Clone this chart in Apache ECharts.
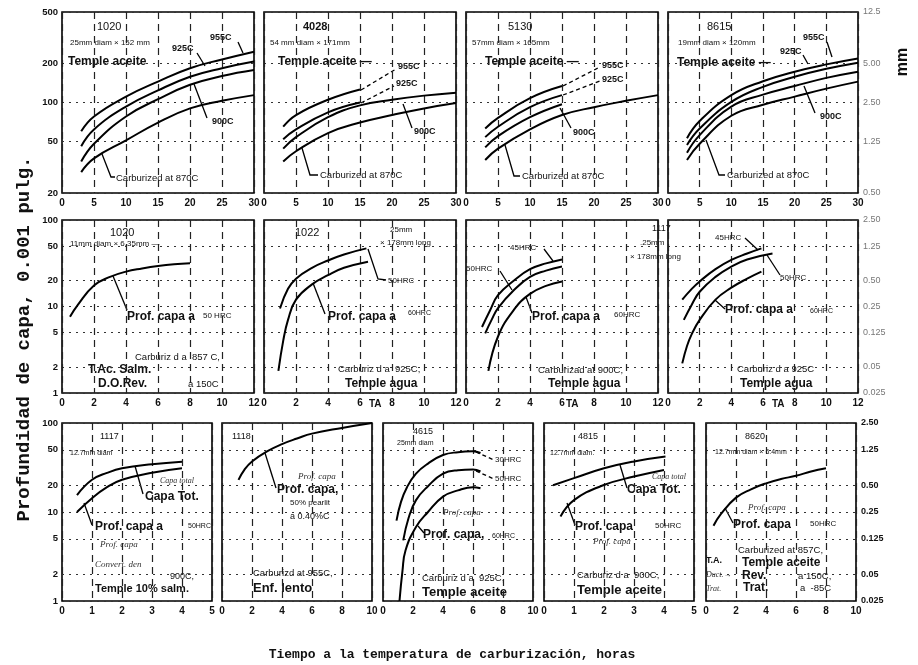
<!DOCTYPE html>
<html><head><meta charset="utf-8">
<script src="https://cdn.jsdelivr.net/npm/echarts@6/dist/echarts.min.js"></script>
<style>html,body{margin:0;padding:0;background:#fff}#c{width:918px;height:665px}</style>
</head><body><div id="c"></div>
<script>
// ---------- tick labels ----------
const row1YTicks = [20, 50, 100, 200, 500];
const row23YTicks = [1, 2, 5, 10, 20, 50, 100];
const row1MM = ['0.50', '1.25', '2.50', '5.00', '12.5'];
const row23MM = ['0.025', '0.05', '0.125', '0.25', '0.50', '1.25', '2.50'];

// ---------- data: row 1 (x = horas 0-30, y = 0.001 pulg.) ----------
const s1020oil_955 = [[3,60],[5,78],[10,111],[15,145],[20,184],[25,215],[30,247]];
const s1020oil_925 = [[3,46],[5,62],[10,93],[15,124],[20,158],[25,184],[30,207]];
const s1020oil_900 = [[3,35],[5,48],[10,78],[15,106],[20,137],[25,160],[30,178]];
const s1020oil_870 = [[3,29],[5,37],[10,51],[15,70],[20,90],[25,103],[30,114]];

const s4028_955 = [[3,65],[5,80],[10,105],[15,126]];
const s4028_925 = [[3,52],[5,62],[10,84],[15,100]];
const s4028_900 = [[3,44],[5,54],[10,77],[15,95],[20,105],[25,113],[30,119]];
const s4028_870 = [[3,35],[5,42],[10,58],[15,70],[20,80],[25,90],[30,99]];

const s5130_955 = [[3,63],[5,76],[10,108],[15,134]];
const s5130_925 = [[3,54],[5,65],[10,92],[15,114]];
const s5130_900 = [[3,45],[5,55],[10,77],[15,97]];
const s5130_870 = [[3,36],[5,44],[10,62],[15,80],[20,92],[25,103],[30,114]];

const s8615_955 = [[3,53],[5,72],[10,114],[15,146],[20,173],[25,197],[30,219]];
const s8615_925 = [[3,47],[5,63],[10,101],[15,132],[20,158],[25,182],[30,203]];
const s8615_900 = [[3,41],[5,56],[10,93],[15,115],[20,134],[25,155],[30,173]];
const s8615_870 = [[3,36],[5,48],[10,79],[15,96],[20,111],[25,128],[30,145]];

// ---------- data: row 2 (x = horas 0-12) ----------
const s1020small_50 = [[0.5,7.6],[1,10.5],[2,17.5],[3,22],[4,25.3],[5,27.5],[6,29.4],[7,30.8],[8,31.6]];

const s1022_50 = [[1,9.5],[1.5,16],[2,21],[3,28],[4,34],[5,40],[6.4,47]];
const s1022_60 = [[0.9,1.8],[1.2,4],[1.5,7],[2,12],[3,18],[4,23],[5,28],[6.5,33]];

const s1117a_45 = [[1,5.8],[1.5,9],[2,13.5],[3,20],[4,27],[5,31.5],[6,35]];
const s1117a_50 = [[1.2,4.9],[1.6,7],[2,9.6],[3,15.5],[4,22],[5,26],[6,29]];
const s1117a_60 = [[1.4,1.8],[2,4.5],[3,9.2],[4,14],[5,17.3],[6,19.4]];

const s1117b_45 = [[0.9,12],[1.5,16],[2,19.5],[3,27],[4,34.5],[5,41],[5.9,47]];
const s1117b_50 = [[1,7],[1.5,10.5],[2,14.8],[3,22],[4,29],[5,35],[6.6,41]];
const s1117b_60 = [[0.9,2.2],[1.2,3.5],[1.5,4.8],[2,7],[3,12],[4,16.5],[5,21],[5.9,25.3]];

// ---------- data: row 3 ----------
const s1117c_tot = [[0.5,15.5],[1,23],[1.5,27.5],[2,31],[3,34.4],[4,36.7]];
const s1117c_50 = [[0.5,10],[1,14.3],[1.5,19],[2,23],[3,27.6],[4,31]];

const s1118_perl = [[1.1,23],[1.5,30],[2,37],[3,48],[4,58],[5,67],[6,76],[8,88],[10,100]];

const s4615_30 = [[0.9,8],[1.2,13],[1.6,19],[2.2,27],[3,35],[4,43.7],[5,47],[6,48],[6.5,46]];
const s4615_50 = [[1.35,4.8],[1.7,8.5],[2.2,13.6],[3,19.5],[4,27],[5,29.5],[6,30],[6.5,28.5]];
const s4615_60 = [[1.1,1],[1.3,2.2],[1.5,3.7],[2.2,6.8],[3,10],[4,14.9],[5,17.5],[6,19],[6.5,18.5]];

const s4815_tot = [[0.3,20],[1,24],[2,31],[3,37],[4.05,42]];
const s4815_50 = [[0.55,8.9],[1,13.6],[2,20.1],[3,25],[4,29.7]];

const s8620_50 = [[0.5,7],[1,9.5],[2,14.5],[3,18],[4,21],[5,23.5],[6,25.5],[7,28.5],[8,31]];

// ---------- panel layout ----------
const panels = [
  {l:62,  t:12, w:192, h:181, xMax:30, xStep:5, row:1, first:true,  data:[s1020oil_955,s1020oil_925,s1020oil_900,s1020oil_870]},
  {l:264, t:12, w:192, h:181, xMax:30, xStep:5, row:1, data:[s4028_955,s4028_925,s4028_900,s4028_870]},
  {l:466, t:12, w:192, h:181, xMax:30, xStep:5, row:1, data:[s5130_955,s5130_925,s5130_900,s5130_870]},
  {l:668, t:12, w:190, h:181, xMax:30, xStep:5, row:1, last:true, data:[s8615_955,s8615_925,s8615_900,s8615_870]},
  {l:62,  t:220, w:192, h:173, xMax:12, xStep:2, row:2, first:true, data:[s1020small_50]},
  {l:264, t:220, w:192, h:173, xMax:12, xStep:2, row:2, data:[s1022_50,s1022_60]},
  {l:466, t:220, w:192, h:173, xMax:12, xStep:2, row:2, data:[s1117a_45,s1117a_50,s1117a_60]},
  {l:668, t:220, w:190, h:173, xMax:12, xStep:2, row:2, last:true, data:[s1117b_45,s1117b_50,s1117b_60]},
  {l:62,  t:423, w:150, h:178, xMax:5,  xStep:1, row:3, first:true, data:[s1117c_tot,s1117c_50]},
  {l:222, t:423, w:150, h:178, xMax:10, xStep:2, row:3, data:[s1118_perl]},
  {l:383, t:423, w:150, h:178, xMax:10, xStep:2, row:3, data:[s4615_30,s4615_50,s4615_60]},
  {l:544, t:423, w:150, h:178, xMax:5,  xStep:1, row:3, data:[s4815_tot,s4815_50]},
  {l:706, t:423, w:150, h:178, xMax:10, xStep:2, row:3, last:true, data:[s8620_50]}
];

const FONT = 'Liberation Sans, Arial, sans-serif';
function lookup(ticks, labels, v) {
  for (let i = 0; i < ticks.length; i++) if (Math.abs(v - ticks[i]) / ticks[i] < 1e-4) return labels[i];
  return '';
}

const grids = [], xAxes = [], yAxes = [], series = [];
panels.forEach((p, i) => {
  const ticks = p.row === 1 ? row1YTicks : row23YTicks;
  const mm = p.row === 1 ? row1MM : row23MM;
  const yMin = ticks[0], yMax = ticks[ticks.length - 1];
  grids.push({left:p.l, top:p.t, width:p.w, height:p.h, show:true, borderColor:'#000', borderWidth:1.6, backgroundColor:'rgba(0,0,0,0)', containLabel:false});
  xAxes.push({
    type:'value', gridIndex:i, min:0, max:p.xMax, interval:p.xStep,
    axisLine:{show:false}, axisTick:{show:false},
    axisLabel:{fontSize:10, fontWeight:'bold', color:'#111', margin:5, fontFamily:FONT, showMinLabel:true, showMaxLabel:true},
    splitLine:{show:true, lineStyle:{color:'#222', type:[7,5], width:1.2}}
  });
  const yIdx = yAxes.length;
  yAxes.push({
    type:'log', logBase:10, gridIndex:i, min:yMin, max:yMax,
    axisLine:{show:false},
    axisTick:{show:false, customValues:ticks},
    axisLabel:{show:!!p.first, customValues:ticks, fontSize:9.5, fontWeight:'bold', color:'#111', margin:4, fontFamily:FONT,
      formatter:v => String(Math.round(v))},
    splitLine:{show:true, lineStyle:{color:'#333', type:[2,5], width:1.2}}
  });
  if (p.last) {
    yAxes.push({
      type:'log', logBase:10, gridIndex:i, min:yMin, max:yMax, position:'right',
      axisLine:{show:false}, axisTick:{show:false, customValues:ticks},
      axisLabel:{customValues:ticks, fontSize:9, color:p.row === 3 ? '#111' : '#777', margin:5, fontFamily:FONT,
        fontWeight:p.row === 3 ? 'bold' : 'normal',
        formatter:v => lookup(ticks, mm, v)},
      splitLine:{show:false}
    });
  }
  p.data.forEach(d => series.push({
    type:'line', xAxisIndex:i, yAxisIndex:yIdx, data:d, smooth:0.45,
    showSymbol:false, symbol:'none', silent:true,
    lineStyle:{color:'#000', width:2}
  }));
});

// ---------- annotations ----------
const g = [];
function T(x, y, text, size, weight, style) {
  g.push({type:'text', x:x, y:y, silent:true, style:{text:text, fill: style === 'hand' ? '#333' : '#111',
    font:(style === 'hand' ? 'italic ' : '') + (weight || 'normal') + ' ' + size + 'px ' + (style === 'hand' ? 'Liberation Serif, serif' : FONT),
    textVerticalAlign:'middle', textAlign:'left'}});
}
function L(pts, dashed) {
  g.push({type:'polyline', silent:true, shape:{points:pts}, style:{stroke:'#000', lineWidth:1.3, fill:null, lineDash: dashed ? [4,3] : null}});
}
// row 1
T(97,27,'1020',11); T(70,43,'25mm diam × 152 mm',8); T(68,62,'Temple aceite',12,'bold');
T(172,49,'925C',9,'bold'); T(210,38,'955C',9,'bold'); T(212,122,'900C',9,'bold'); T(116,178,'Carburized at 870C',9.5);
L([[102,154],[111,177],[115,177]]); L([[197,53],[205,66]]); L([[238,42],[243,53]]); L([[207,118],[194,84]]);

T(303,27,'4028',11,'bold'); T(270,43,'54 mm diam × 171mm',8); T(278,62,'Temple aceite —',12,'bold');
T(398,67,'955C',9,'bold'); T(396,84,'925C',9,'bold'); T(414,132,'900C',9,'bold'); T(320,175,'Carburized at 870C',9.5);
L([[302,148],[310,175],[318,175]]); L([[361,90],[396,69]],true); L([[361,103],[394,86]],true); L([[412,128],[403,104]]);

T(508,27,'5130',11); T(472,43,'57mm diam × 165mm',8); T(485,62,'Temple aceite —',12,'bold');
T(602,66,'955C',9,'bold'); T(602,80,'925C',9,'bold'); T(573,133,'900C',9,'bold'); T(522,176,'Carburized at 870C',9.5);
L([[505,145],[514,176],[520,176]]); L([[563,86],[600,67]],true); L([[563,95],[600,81]],true); L([[571,128],[560,108]]);

T(707,27,'8615',11); T(678,43,'19mm diam × 120mm',8); T(677,63,'Temple aceite —',12,'bold');
T(803,38,'955C',9,'bold'); T(780,52,'925C',9,'bold'); T(820,117,'900C',9,'bold'); T(727,175,'Carburized at 870C',9.5);
L([[706,140],[719,175],[725,175]]); L([[803,55],[808,64]]); L([[827,42],[832,57]]); L([[815,113],[804,86]]);

// row 2
T(110,233,'1020',11); T(70,244,'11mm diam × 6.35mm —',8); T(127,317,'Prof. capa a',12,'bold'); T(203,316,'50 HRC',8);
T(135,357,'Carburiz d a  857 C,',9.5); T(88,370,'T.Ac. Salm.',12,'bold'); T(98,384,'D.O.Rev.',12,'bold'); T(188,384,'a 150C',9.5);
L([[113,276],[127,310]]);

T(295,233,'1022',11); T(390,230,'25mm',8); T(380,243,'× 178mm long',8); T(388,281,'50HRC',8);
T(328,317,'Prof. capa a',12,'bold'); T(408,313,'60HRC',7); T(338,369,'Carburiz d a  925C,',9.5); T(345,384,'Temple agua',12,'bold');
T(369,404,'TA',10,'bold');
L([[313,283],[325,314]]); L([[368,249],[378,279],[386,280]]);

T(510,248,'45HRC',8); T(466,269,'50HRC',8); T(532,317,'Prof. capa a',12,'bold'); T(614,315,'60HRC',8);
T(538,370,'Carburizad at 900C,',9.5); T(548,384,'Temple agua',12,'bold'); T(566,404,'TA',10,'bold');
T(652,229,'1117',9); T(640,243,'.25mm',8); T(630,257,'× 178mm long',8);
L([[544,249],[553,261]]); L([[500,271],[512,290]]); L([[526,297],[532,313]]);

T(715,238,'45HRC',8); T(780,278,'50HRC',8); T(725,310,'Prof. capa a',12,'bold'); T(810,311,'60HRC',7);
T(737,369,'Carburiz d a 925C',9.5); T(740,384,'Temple agua',12,'bold'); T(772,404,'TA',10,'bold');
L([[745,238],[758,250]]); L([[767,255],[780,275]]); L([[715,300],[725,309]]);

// row 3
T(100,437,'1117',9); T(70,453,'12.7mm diam',7); T(145,497,'Capa Tot.',12,'bold'); T(160,481,'Capa total',8,'normal','hand');
T(95,527,'Prof. capa a',12,'bold'); T(188,526,'50HRC',7); T(100,545,'Prof. capa',9,'normal','hand');
T(95,565,'Convert. den',9,'normal','hand'); T(170,577,'900C,',9); T(95,589,'Temple 10% salm.',11,'bold');
L([[135,466],[143,494]]); L([[84,503],[92,525]]);

T(232,437,'1118',9); T(298,477,'Prof. capa',9,'normal','hand'); T(277,490,'Prof. capa,',12,'bold');
T(290,503,'50% pearlit',8); T(290,517,'a 0.40%C',9); T(253,573,'Carburizd at 955C,',9.5); T(253,588,'Enf. lento',13,'bold');
L([[265,453],[276,488]]);

T(413,432,'4615',9); T(397,443,'25mm diam',7); T(495,460,'30HRC',8); T(495,479,'50HRC',8);
T(443,513,'Prof. capa',9,'normal','hand'); T(423,535,'Prof. capa,',12,'bold'); T(492,536,'60HRC',7);
T(422,578,'Carburiz d a  925C,',9.5); T(422,592,'Temple aceite',13,'bold');
L([[476,452],[494,460]],true); L([[476,471],[494,479]],true); L([[418,526],[424,533]]);

T(578,437,'4815',9); T(550,453,'12.7mm diam.',7); T(652,477,'Capa total',8,'normal','hand'); T(627,490,'Capa Tot.',12,'bold');
T(575,527,'Prof. capa',12,'bold'); T(655,526,'50HRC',8); T(593,542,'Prof. capa',9,'normal','hand');
T(577,575,'Carburiz d a  900C,',9.5); T(577,590,'Temple aceite',13,'bold');
L([[620,465],[627,488]]); L([[567,503],[575,525]]);

T(745,437,'8620',9); T(715,452,'12.7mm diam × 6.4mm',7); T(748,508,'Prof. capa',9,'normal','hand');
T(733,525,'Prof. capa',12,'bold'); T(810,524,'50HRC',8); T(738,550,'Carburized at 857C,',9.5);
T(706,561,'T.A.',9,'bold'); T(742,563,'Temple aceite',12,'bold');
T(706,575,'Duct.→',8,'normal','hand'); T(742,576,'Rev.',12,'bold'); T(798,576,'a 150C,',9.5);
T(706,589,'Trat.',8,'normal','hand'); T(743,588,'Trat.',12,'bold'); T(800,588,'a  -85C',9.5);
L([[725,508],[733,523]]);

// axis titles
g.push({type:'text', x:24, y:339, rotation:Math.PI/2, silent:true,
  style:{text:'Profundidad de capa, 0.001 pulg.', font:'bold 19px Liberation Mono, Courier New, monospace', fill:'#111', textAlign:'center', textVerticalAlign:'middle'}});
g.push({type:'text', x:452, y:655, silent:true,
  style:{text:'Tiempo a la temperatura de carburización, horas', font:'bold 13px Liberation Mono, Courier New, monospace', fill:'#111', textAlign:'center', textVerticalAlign:'middle'}});
g.push({type:'text', x:903, y:62, rotation:Math.PI/2, silent:true,
  style:{text:'mm', font:'bold 16px Liberation Sans, Arial, sans-serif', fill:'#111', textAlign:'center', textVerticalAlign:'middle'}});

const chart = echarts.init(document.getElementById('c'), null, {renderer:'canvas'});
chart.setOption({
  animation:false,
  backgroundColor:'#fff',
  grid:grids, xAxis:xAxes, yAxis:yAxes, series:series, graphic:g
});
</script></body></html>
